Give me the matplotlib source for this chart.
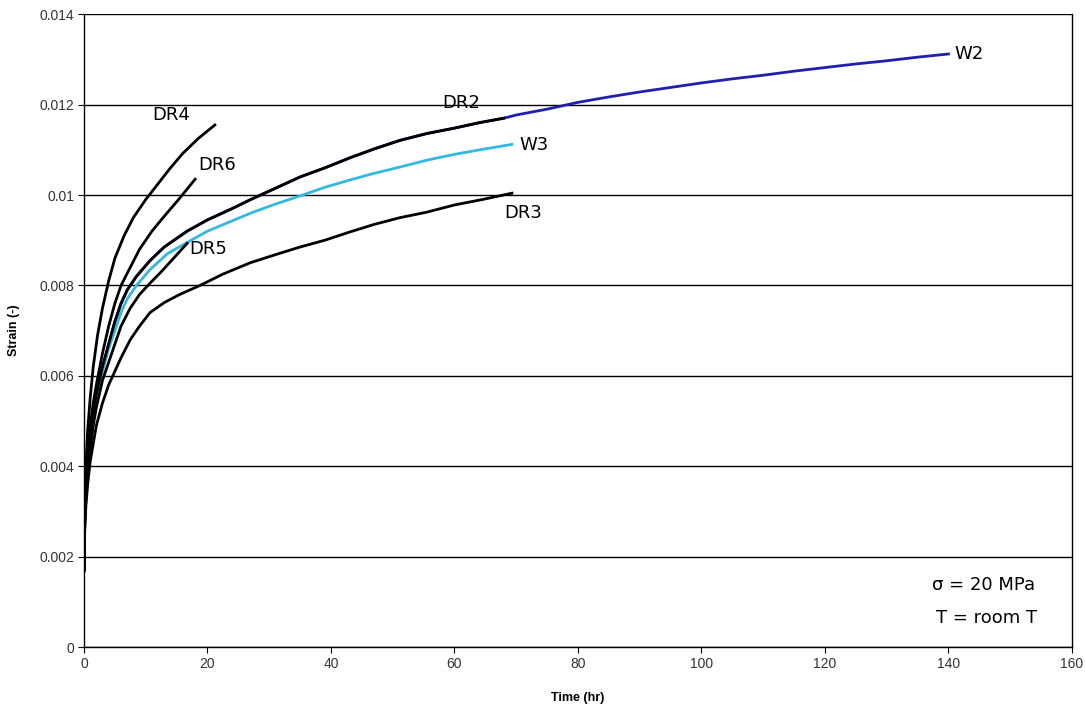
import matplotlib.pyplot as plt

# creep curves (time in hr, strain)
t_w2 = [0, 0.1, 0.3, 0.6, 1, 1.5, 2, 3, 4, 5, 6, 7, 8.5, 10.7, 13, 16.7, 20, 24, 27,
        31, 35, 39, 43, 47, 51.2, 55.5, 60, 64, 68, 70, 75, 80, 85, 90, 95, 100,
        105, 110, 115, 120, 125, 130, 135, 140]
e_w2 = [0.0017, 0.0028, 0.0036, 0.0042, 0.0047, 0.0052, 0.0056, 0.0062, 0.0067,
        0.0072, 0.0076, 0.0079, 0.0082, 0.00855, 0.00885, 0.0092, 0.00945, 0.0097,
        0.0099, 0.01015, 0.0104, 0.0106, 0.01082, 0.01102, 0.01121, 0.01136,
        0.01148, 0.0116, 0.0117, 0.01177, 0.0119, 0.01205, 0.01217, 0.01228,
        0.01238, 0.01248, 0.01257, 0.01265, 0.01274, 0.01282, 0.0129, 0.01297,
        0.01305, 0.01312]

t_dr2 = [0, 0.1, 0.3, 0.6, 1, 1.5, 2, 3, 4, 5, 6, 7, 8.5, 10.7, 13, 16.7, 20, 24,
         27, 31, 35, 39, 43, 47, 51.2, 55.5, 60, 64, 68]
e_dr2 = [0.0017, 0.0028, 0.0036, 0.0042, 0.0047, 0.0052, 0.0056, 0.0062, 0.0067,
         0.0072, 0.0076, 0.0079, 0.0082, 0.00855, 0.00885, 0.0092, 0.00945, 0.0097,
         0.0099, 0.01015, 0.0104, 0.0106, 0.01082, 0.01102, 0.01121, 0.01136,
         0.01148, 0.0116, 0.0117]

t_w3 = [0, 0.1, 0.3, 0.6, 1, 1.5, 2, 3, 4, 5, 6, 7, 8.5, 10.7, 13.5, 16.7, 20, 23.5,
        27, 31, 35, 39, 43, 47, 51.2, 55.5, 60, 64.5, 69.3]
e_w3 = [0.0017, 0.0027, 0.0035, 0.0041, 0.0046, 0.0051, 0.0055, 0.0061, 0.0066,
        0.0070, 0.0074, 0.0077, 0.0080, 0.00835, 0.0087, 0.00895, 0.0092, 0.0094,
        0.0096, 0.0098, 0.00998, 0.01017, 0.01033, 0.01048, 0.01062, 0.01077,
        0.0109, 0.01101, 0.01112]

t_dr3 = [0, 0.1, 0.3, 0.6, 1, 1.5, 2, 3, 4, 5, 6, 7.5, 9, 10.7, 13, 15.5, 18.8, 22.5,
         26.9, 31, 35, 39, 43, 47, 51.2, 55.5, 60, 64.5, 69.3]
e_dr3 = [0.0017, 0.0025, 0.0031, 0.0036, 0.0041, 0.0045, 0.0049, 0.0054, 0.0058,
         0.0061, 0.0064, 0.0068, 0.0071, 0.0074, 0.00762, 0.0078, 0.0080, 0.00825,
         0.0085, 0.00868, 0.00885, 0.009, 0.00918, 0.00935, 0.0095, 0.00962,
         0.00978, 0.0099, 0.01004]

t_dr4 = [0, 0.1, 0.3, 0.6, 1, 1.5, 2.2, 3, 4, 5, 6.5, 8, 10, 12, 14, 16, 18.5, 21.2]
e_dr4 = [0.0017, 0.0030, 0.0040, 0.0048, 0.0055, 0.0062, 0.0069, 0.0075, 0.0081,
         0.0086, 0.0091, 0.0095, 0.0099, 0.01025, 0.0106, 0.01092, 0.01125, 0.01155]

t_dr5 = [0, 0.1, 0.3, 0.6, 1, 1.5, 2, 3, 4, 5, 6, 7.5, 9, 10.7, 12.5, 14.5, 16.7]
e_dr5 = [0.0017, 0.0026, 0.0033, 0.0039, 0.0044, 0.0049, 0.0053, 0.0059, 0.0063,
         0.0067, 0.0071, 0.0075, 0.0078, 0.00805, 0.0083, 0.0086, 0.00893]

t_dr6 = [0, 0.1, 0.3, 0.6, 1, 1.5, 2, 3, 4, 5, 6, 7.5, 9, 11, 13, 15.5, 18]
e_dr6 = [0.0017, 0.0029, 0.0037, 0.0043, 0.0049, 0.0054, 0.0058, 0.0065, 0.0071,
         0.0076, 0.0080, 0.0084, 0.0088, 0.0092, 0.00953, 0.00993, 0.01035]

plt.rcParams['font.family'] = ['Liberation Sans', 'DejaVu Sans']

fig = plt.figure(figsize=(10.85, 7.11), dpi=100)
ax = fig.add_axes([0.0774, 0.09, 0.9106, 0.890])

lw = 2.0
ax.plot(t_w2, e_w2, color='#1f1fb0', lw=lw, zorder=3)
ax.plot(t_dr2, e_dr2, color='black', lw=lw, zorder=4)
ax.plot(t_w3, e_w3, color='#35b8e0', lw=lw, zorder=3)
ax.plot(t_dr3, e_dr3, color='black', lw=lw, zorder=3)
ax.plot(t_dr4, e_dr4, color='black', lw=lw, zorder=3)
ax.plot(t_dr6, e_dr6, color='black', lw=lw, zorder=3)
ax.plot(t_dr5, e_dr5, color='black', lw=lw, zorder=3)

ax.set_xlim(0, 160)
ax.set_ylim(0, 0.014)
ax.set_xticks(range(0, 161, 20))
ax.set_yticks([0, 0.002, 0.004, 0.006, 0.008, 0.01, 0.012, 0.014])
ax.set_yticklabels(['0', '0.002', '0.004', '0.006', '0.008', '0.01', '0.012', '0.014'])
ax.yaxis.grid(True, color='black', lw=1.0)
ax.set_axisbelow(True)
for s in ax.spines.values():
    s.set_linewidth(1.0)
ax.spines['top'].set_visible(False)
ax.tick_params(direction='out', length=4, labelsize=10, labelcolor='#333333', pad=3)

ax.set_xlabel('Time (hr)', fontsize=9, fontweight='bold', labelpad=15)
ax.set_ylabel('Strain (-)', fontsize=9, fontweight='bold', labelpad=14)

lab = dict(fontsize=13, family='DejaVu Sans', color='black')
ax.text(11, 0.01165, 'DR4', **lab)
ax.text(18.5, 0.01055, 'DR6', **lab)
ax.text(17, 0.0087, 'DR5', **lab)
ax.text(58, 0.01192, 'DR2', **lab)
ax.text(70.5, 0.0111, 'W3', va='center', **lab)
ax.text(68, 0.0095, 'DR3', **lab)
ax.text(141, 0.01313, 'W2', va='center', **lab)
ax.text(154, 0.00137, '\u03c3 = 20 MPa', ha='right', va='center', **lab)
ax.text(154.3, 0.00064, 'T = room T', ha='right', va='center', **lab)

fig.savefig('out.png', dpi=100)
